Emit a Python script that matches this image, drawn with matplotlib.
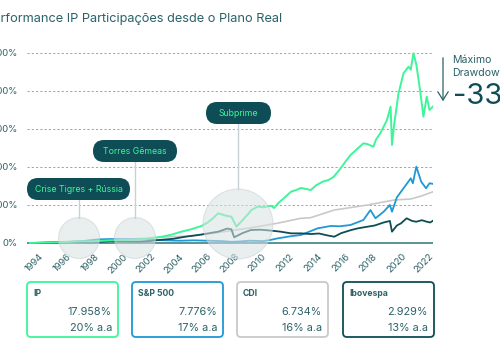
import matplotlib
matplotlib.use("Agg")
import matplotlib.pyplot as plt
from matplotlib.patches import FancyBboxPatch, Circle, FancyArrowPatch
from matplotlib.transforms import ScaledTranslation

plt.rcParams['font.family'] = ['Inter', 'DejaVu Sans']

# ---------------- data ----------------
ip_t = [1994.2, 1995.0, 1996.0, 1997.0, 1998.0, 1998.7, 1999.5, 2000.5, 2001.5, 2002.5,
        2003.0, 2003.7, 2004.4, 2005.1, 2005.8, 2006.56, 2007.0, 2007.4, 2007.75, 2008.3,
        2008.7, 2009.06, 2009.5, 2009.9, 2010.13, 2010.6, 2011.0, 2011.56, 2011.77, 2012.1,
        2012.49, 2012.99, 2013.4, 2013.7, 2014.1, 2014.41, 2014.8, 2015.27, 2015.7, 2016.06,
        2016.56, 2016.9, 2017.27, 2017.7, 2018.2, 2018.5, 2018.91, 2019.1, 2019.41, 2019.89,
        2020.15, 2020.25, 2020.4, 2020.72, 2021.08, 2021.44, 2021.6, 2021.79, 2022.0, 2022.27,
        2022.51, 2022.75, 2022.95, 2023.2]
ip_v = [0, 40, 80, 150, 220, 200, 300, 380, 420, 520,
        650, 830, 1100, 1490, 1800, 2240, 2700, 3300, 3900, 3600,
        3460, 2150, 3000, 3800, 4340, 4780, 4700, 4900, 4600, 5300,
        5920, 6750, 7000, 7240, 7100, 6970, 7600, 8070, 8300, 8720,
        9830, 10700, 11580, 12300, 13120, 13000, 12670, 13600, 14440, 16180,
        17940, 12900, 15500, 19700, 22330, 23200, 22800, 24960, 23500, 20130,
        16620, 19250, 17500, 17958]

sp_t = [1994.2, 1995.0, 1996.0, 1997.0, 1998.0, 1999.2, 2000.0, 2001.0, 2002.3, 2003.0,
        2004.0, 2005.0, 2006.0, 2007.0, 2008.0, 2008.7, 2009.3, 2010.0, 2011.0, 2011.5,
        2012.0, 2013.0, 2013.7, 2014.9, 2015.84, 2016.5, 2017.27, 2018.2, 2018.7, 2019.06,
        2019.65, 2020.1, 2020.25, 2020.6, 2020.9, 2021.4, 2021.6, 2021.75, 2022.0, 2022.35,
        2022.7, 2022.95, 2023.2]
sp_v = [0, 30, 80, 150, 250, 480, 520, 500, 480, 400,
        350, 300, 350, 300, 250, 150, 200, 300, 250, 400,
        600, 900, 1050, 1930, 2240, 2200, 2370, 3030, 4340, 3250,
        4120, 5000, 4120, 6000, 6750, 8000, 8510, 7860, 10040, 8070,
        7200, 7860, 7776]

cdi_t = [1994.2, 1995.0, 1996.0, 1998.0, 2000.0, 2002.5, 2004.0, 2005.8, 2008.0, 2010.1,
         2012.0, 2013.7, 2014.4, 2016.1, 2018.5, 2020.4, 2021.6, 2022.3, 2023.2]
cdi_v = [0, 60, 120, 250, 400, 620, 800, 920, 1450, 2000,
         2600, 3250, 3330, 4340, 5000, 5660, 5790, 6150, 6734]

ibov_t = [1994.2, 1995.0, 1996.0, 1997.0, 1997.8, 1998.7, 1999.4, 2000.0, 2001.0, 2002.0,
          2002.8, 2003.5, 2004.5, 2005.4, 2006.5, 2007.75, 2008.4, 2008.7, 2008.9, 2009.5,
          2010.1, 2010.8, 2011.6, 2012.2, 2012.99, 2013.7, 2014.41, 2015.0, 2015.6, 2016.1,
          2016.6, 2017.3, 2017.8, 2018.5, 2019.0, 2019.65, 2020.1, 2020.25, 2020.6, 2020.9,
          2021.3, 2021.7, 2022.0, 2022.4, 2022.75, 2023.0, 2023.2]
ibov_v = [0, 20, 60, 120, 100, 60, 170, 250, 200, 180,
          250, 400, 550, 830, 1100, 1490, 1900, 1800, 750, 1300,
          1710, 1750, 1620, 1500, 1270, 1270, 1180, 1250, 1000, 830,
          1300, 1700, 1930, 2150, 2300, 2700, 2900, 1490, 2300, 2590,
          3250, 2900, 2800, 3000, 2800, 2700, 2929]

y_ticks = [0, 5000, 10000, 15000, 20000, 25000]
x_years = list(range(1994, 2023, 2))

cards = [("IP", "17.958%", "20% a.a"),
         ("S&P 500", "7.776%", "17% a.a"),
         ("CDI", "6.734%", "16% a.a"),
         ("Ibovespa", "2.929%", "13% a.a")]

events = ["Crise Tigres + Rússia", "Torres Gêmeas", "Subprime"]

# ---------------- style ----------------
GREEN = '#3ef59a'
BLUE = '#1f98d6'
GREY = '#c9c9c9'
DARK = '#0e4d55'
TEXT = '#2b6268'
GRID = '#8aaaae'

W, H = 500, 350
fig = plt.figure(figsize=(5, 3.5), dpi=100)
fig.patch.set_facecolor('white')

ax = fig.add_axes([27 / W, (H - 250) / H, 406 / W, 215 / H])
v_per_px = 5000 / 38.0
ax.set_ylim((243 - 250) * v_per_px, (243 - 35) * v_per_px)
ax.set_xlim(1994.2, 2023.2)
for s in ax.spines.values():
    s.set_visible(False)
ax.patch.set_visible(False)

for v in y_ticks[1:]:
    ax.axhline(v, color=GRID, lw=0.7, ls=(0, (2.2, 2.2)), zorder=0)
ax.axhline(0, color='#3e8088', lw=1.2, zorder=0.5)

ax.plot(cdi_t, cdi_v, color=GREY, lw=1.2, zorder=1)
ax.plot(sp_t, sp_v, color=BLUE, lw=1.3, zorder=2)
ax.plot(ibov_t, ibov_v, color=DARK, lw=1.3, zorder=3)
ax.plot(ip_t, ip_v, color=GREEN, lw=1.4, zorder=4)

ax.set_yticks(y_ticks)
ax.set_yticklabels([f"{v}%" for v in y_ticks])
ax.tick_params(axis='y', length=0, pad=6.5, labelsize=6.8, labelcolor=TEXT)
ax.set_xticks(x_years)
ax.set_xticklabels([str(y) for y in x_years], rotation=45, ha='center', va='top')
ax.tick_params(axis='x', length=0, pad=1.5, labelsize=6.8, labelcolor=TEXT)
off = ScaledTranslation(7.8 / 100, 0, fig.dpi_scale_trans)
for lab in ax.get_xticklabels():
    lab.set_transform(lab.get_transform() + off)

# ---------------- overlay in pixel coordinates ----------------
ov = fig.add_axes([0, 0, 1, 1])
ov.set_xlim(0, W)
ov.set_ylim(H, 0)
ov.axis('off')
ov.patch.set_visible(False)
ov.set_zorder(5)

# title
ov.text(282, 19, "Performance IP Participações desde o Plano Real", ha='right', va='center',
        fontsize=9.2, color=TEXT)

# event annotations
ev_boxes = [(27, 178, 103, 22), (93, 140, 84, 22), (206, 102, 65, 22)]
ev_circ = [(79, 238, 20.5), (135, 238, 20.5), (238, 224, 35)]
for name, (bx, by, bw, bh), (cx, cy, r) in zip(events, ev_boxes, ev_circ):
    ov.add_patch(Circle((cx, cy), r, facecolor='#d8e0e2', edgecolor='#c8d2d5',
                        lw=0.8, alpha=0.55, zorder=1))
    ov.plot([cx, cx], [by + bh, cy - r], color='#c8d2d5', lw=1.0, zorder=1)
    ov.add_patch(FancyBboxPatch((bx, by), bw, bh, boxstyle="round,pad=0,rounding_size=11",
                                facecolor=DARK, edgecolor='none', zorder=2))
    ov.text(bx + bw / 2, by + bh / 2 + 0.5, name, ha='center', va='center', fontsize=6.3,
            color=GREEN, zorder=3)

# drawdown note
ov.add_patch(FancyArrowPatch((443, 55), (443, 104), arrowstyle='->,head_length=4,head_width=2.5',
                             color=TEXT, lw=0.9, mutation_scale=1.5))
ov.text(452, 60, "Máximo", ha='left', va='center', fontsize=7.6, color=TEXT)
ov.text(452, 73, "Drawdown", ha='left', va='center', fontsize=7.6, color=TEXT)
ov.text(453, 97, "-33%", ha='left', va='center', fontsize=21, color=DARK)

# cards
card_x = [27, 132, 237, 343]
card_col = [GREEN, BLUE, GREY, DARK]
for (lab, v1, v2), x0, col in zip(cards, card_x, card_col):
    ov.add_patch(FancyBboxPatch((x0, 282), 91, 55, boxstyle="round,pad=0,rounding_size=4",
                                facecolor='white', edgecolor=col, lw=1.3))
    ov.text(x0 + 6, 293, lab, ha='left', va='center', fontsize=6.2, fontweight='bold', color=TEXT)
    ov.text(x0 + 85, 312, v1, ha='right', va='center', fontsize=7.8, color=TEXT)
    ov.text(x0 + 85, 328, v2, ha='right', va='center', fontsize=7.8, color=TEXT)

fig.savefig("out.png", dpi=100, facecolor='white')
